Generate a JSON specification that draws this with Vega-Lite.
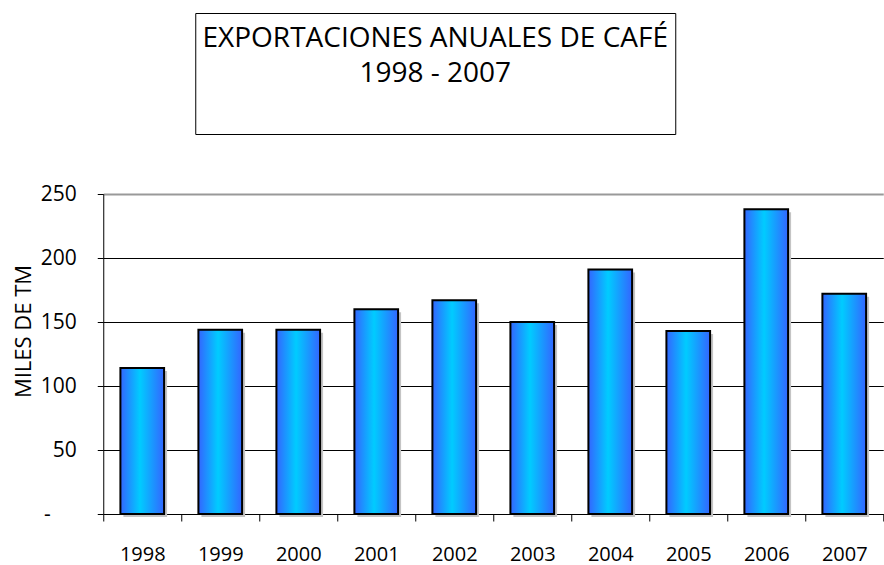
{
  "$schema": "https://vega.github.io/schema/vega-lite/v6.json",
  "padding": {"left": 12, "top": 12, "right": 0, "bottom": 0},
  "background": "white",
  "config": {"font": "Open Sans", "view": {"stroke": null}},
  "spacing": 48,
  "center": true,
  "vconcat": [
    {
      "width": 480,
      "height": 121,
      "view": {"stroke": "black", "strokeWidth": 1},
      "data": {"values": [
        {"linea": "1", "texto": "EXPORTACIONES ANUALES DE CAFÉ"},
        {"linea": "2", "texto": "1998 - 2007"}
      ]},
      "mark": {"type": "text", "fontSize": 28, "color": "black", "baseline": "middle", "font": "Open Sans"},
      "encoding": {
        "y": {
          "field": "linea", "type": "ordinal",
          "scale": {"type": "point", "domain": ["1", "2", "3"], "padding": 0.754},
          "axis": {"orient": "right", "title": null, "labels": false, "ticks": false, "domain": true, "domainColor": "transparent", "offset": 116, "grid": false}
        },
        "text": {"field": "texto"}
      }
    },
    {
      "width": 780,
      "height": 320,
      "data": {"values": [
        {"anio": "1998", "valor": 114},
        {"anio": "1999", "valor": 144},
        {"anio": "2000", "valor": 144},
        {"anio": "2001", "valor": 160},
        {"anio": "2002", "valor": 167},
        {"anio": "2003", "valor": 150},
        {"anio": "2004", "valor": 191},
        {"anio": "2005", "valor": 143},
        {"anio": "2006", "valor": 238},
        {"anio": "2007", "valor": 172}
      ]},
      "encoding": {
        "x": {
          "field": "anio", "type": "ordinal",
          "scale": {"paddingInner": 0, "paddingOuter": 0},
          "axis": {
            "title": null, "labelAngle": 0, "labelFontSize": 20, "labelColor": "black",
            "labelPadding": 23, "tickBand": "extent", "tickSize": 7, "tickColor": "black",
            "domainColor": "black", "grid": false
          }
        },
        "y": {
          "field": "valor", "type": "quantitative",
          "scale": {"domain": [0, 250]},
          "axis": {
            "title": "MILES DE TM", "titleFontSize": 22, "titleFontWeight": "normal", "titleColor": "black",
            "titlePadding": 5, "titleY": 137,
            "values": [0, 50, 100, 150, 200, 250],
            "labelExpr": "datum.value == 0 ? '-' : datum.label",
            "labelFontSize": 21, "labelColor": "black",
            "labelPadding": {"condition": {"test": "datum.value == 0", "value": 47}, "value": 21},
            "tickSize": 6, "tickColor": "black", "domainColor": "black",
            "gridColor": {"condition": {"test": "datum.value == 250", "value": "#999999"}, "value": "black"},
            "gridWidth": {"condition": {"test": "datum.value == 250", "value": 2}, "value": 1}
          }
        }
      },
      "layer": [
        {
          "mark": {"type": "bar", "width": {"band": 0.56}, "fill": "#c4c4c4", "xOffset": 3, "yOffset": 3, "y2Offset": 0}
        },
        {
          "mark": {
            "type": "bar",
            "width": {"band": 0.56},
            "fill": {
              "gradient": "linear", "x1": 0, "y1": 0, "x2": 1, "y2": 0,
              "stops": [
                {"offset": 0, "color": "#3366ff"},
                {"offset": 0.45, "color": "#00ccff"},
                {"offset": 1, "color": "#3366ff"}
              ]
            },
            "stroke": "black",
            "strokeWidth": 2
          }
        }
      ]
    }
  ]
}
